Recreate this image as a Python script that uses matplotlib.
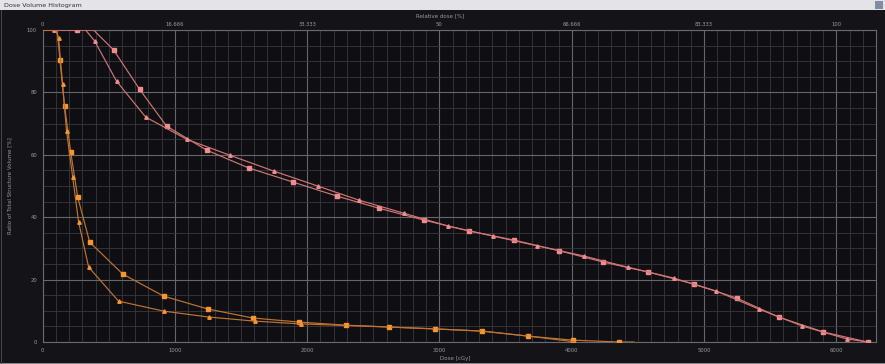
import matplotlib
matplotlib.use("Agg")
import matplotlib.pyplot as plt
from matplotlib.ticker import MultipleLocator
from matplotlib.patches import Rectangle

# curvas DVH (dosis en cGy, volumen en %)
# el primer punto y el "hombro" no llevan marcador
ps_dosis = [0, 257, 385, 537, 733, 937, 1240, 1557, 1890, 2222, 2540, 2880, 3220,
            3560, 3900, 4240, 4580, 4921, 5246, 5563, 5903, 6236]
ps_vol = [100, 100, 100, 93.6, 81, 69.2, 61.5, 55.8, 51.3, 46.8, 42.9, 39.1, 35.6,
          32.7, 29.3, 25.6, 22.4, 18.6, 14.1, 8, 3.2, 0]
ps_marcas = [1] + list(range(3, 22))

pt_dosis = [0, 83, 325, 393, 559, 779, 1088, 1413, 1746, 2079, 2389, 2729, 3061,
            3401, 3741, 4089, 4422, 4770, 5094, 5412, 5744, 6077, 6236]
pt_vol = [100, 100, 100, 96.5, 83.6, 72.1, 65, 59.9, 54.8, 50, 45.5, 41.3, 37.2,
          34, 30.8, 27.6, 24, 20.5, 16.3, 10.6, 5.1, 1, 0]
pt_marcas = [1] + list(range(3, 22))

os_dosis = [0, 110, 131, 166, 212, 265, 356, 605, 915, 1247, 1587, 1935, 2290,
            2615, 2963, 3318, 3666, 4006, 4361, 4470]
os_vol = [100, 100, 90.4, 75.6, 61, 46.5, 32, 21.8, 14.7, 10.6, 7.7, 6.4, 5.4,
          4.8, 4.2, 3.5, 1.9, 0.6, 0, 0]
os_marcas = list(range(2, 19))

ot_dosis = [0, 100, 121, 151, 181, 227, 272, 348, 574, 915, 1255, 1602, 1950,
            2295, 2620, 2968, 3322, 3670, 4030]
ot_vol = [100, 100, 97.4, 82.6, 67.6, 53, 38.5, 24, 13.1, 9.9, 8, 6.7, 5.8,
          5.3, 4.8, 4.2, 3.5, 1.9, 0]
ot_marcas = list(range(2, 18))

x_ticks = [0, 1000, 2000, 3000, 4000, 5000, 6000]
y_ticks = [0, 20, 40, 60, 80, 100]
rel_ticks = [0, 16.666, 33.333, 50, 66.666, 83.333, 100]
rel_labels = ["0", "16.666", "33.333", "50", "66.666", "83.333", "100"]

fondo = "#0f0f13"
texto = "#9a9a9e"
rosa = "#f28c8c"
rosa_linea = "#cf7676"
naranja = "#f5962e"
naranja_linea = "#bf7433"

fig = plt.figure(figsize=(8.85, 3.64), dpi=100, facecolor="#141418")
ax = fig.add_axes([42.6 / 885, 1 - 342 / 364, (876 - 42.6) / 885, 312 / 364])
ax.set_facecolor(fondo)

# barra de titulo de la ventana y bordes
fig.patches.append(Rectangle((0, 1 - 10 / 364), 1, 10 / 364, transform=fig.transFigure,
                             facecolor="#e4e4e6", edgecolor="none", zorder=0))
fig.patches.append(Rectangle((0, 0), 1, 1.5 / 364, transform=fig.transFigure,
                             facecolor="#8a8a8e", edgecolor="none", zorder=0))
fig.patches.append(Rectangle((1 / 885, 0), 1.2 / 885, 1 - 10 / 364, transform=fig.transFigure,
                             facecolor="#45454a", edgecolor="none", zorder=0))
fig.patches.append(Rectangle((875 / 885, 1 - 9 / 364), 8 / 885, 8 / 364, transform=fig.transFigure,
                             facecolor="#7c8ea6", edgecolor="none", zorder=1))
fig.text(4 / 885, 1 - 5 / 364, "Dose Volume Histogram", fontsize=4.6, color="#333333",
         va="center", ha="left")

ax.plot(ps_dosis, ps_vol, color=rosa_linea, lw=0.85, marker="s", ms=3.0,
        mfc=rosa, mec=rosa, markevery=ps_marcas, zorder=3)
ax.plot(pt_dosis, pt_vol, color=rosa_linea, lw=0.85, marker="^", ms=2.5,
        mfc=rosa, mec=rosa, markevery=pt_marcas, zorder=3)
ax.plot(os_dosis, os_vol, color=naranja_linea, lw=0.85, marker="s", ms=3.0,
        mfc=naranja, mec=naranja, markevery=os_marcas, zorder=3)
ax.plot(ot_dosis, ot_vol, color=naranja_linea, lw=0.85, marker="^", ms=2.5,
        mfc=naranja, mec=naranja, markevery=ot_marcas, zorder=3)

ax.set_xlim(0, 6300)
ax.set_ylim(0, 100)
ax.set_xticks(x_ticks)
ax.set_yticks(y_ticks)
ax.xaxis.set_minor_locator(MultipleLocator(100))
ax.yaxis.set_minor_locator(MultipleLocator(5))
ax.grid(which="major", color="#66666b", lw=0.8)
ax.grid(which="minor", color="#38383d", lw=0.6)
ax.set_axisbelow(True)
ax.tick_params(which="both", colors=texto, labelsize=3.8, length=0, pad=4)
for lado in ax.spines.values():
    lado.set_color("#6a6a6e")
    lado.set_linewidth(0.8)

ax.set_xlabel("Dose [cGy]", fontsize=4, color=texto)
ax.xaxis.set_label_coords(0.495, -0.045)
ax.set_ylabel("Ratio of Total Structure Volume [%]", fontsize=4, color=texto)
ax.yaxis.set_label_coords(-0.036, 0.5)

top = ax.secondary_xaxis("top", functions=(lambda d: d / 60.0, lambda p: p * 60.0))
top.set_xticks(rel_ticks)
top.set_xticklabels(rel_labels)
top.tick_params(colors=texto, labelsize=3.8, length=0, pad=2)
top.spines["top"].set_visible(False)
fig.text(440 / 885, 1 - 16 / 364, "Relative dose [%]", fontsize=4, color=texto,
         ha="center", va="center")

fig.savefig("out.png", dpi=100, facecolor=fig.get_facecolor())
